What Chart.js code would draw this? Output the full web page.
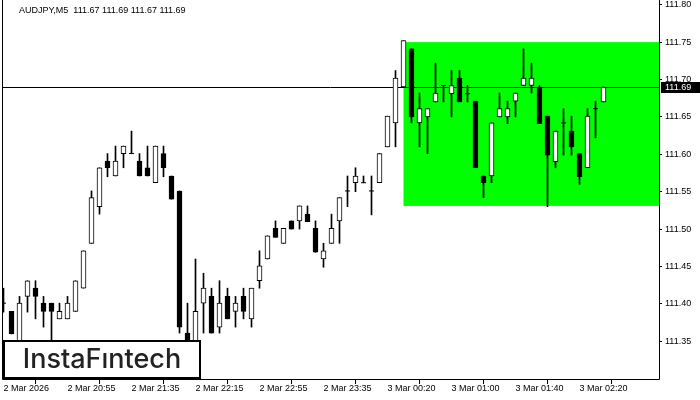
<!DOCTYPE html>
<html>
<head>
<meta charset="utf-8">
<script src="https://cdn.jsdelivr.net/npm/chart.js@4.4.1/dist/chart.umd.min.js"></script>
<style>
  html, body { margin: 0; padding: 0; background: #ffffff; }
</style>
</head>
<body>
<canvas id="maingraph" width="700" height="400"></canvas>
<script>
const symbol = "AUDJPY,M5";

// M5 candles, oldest first
const opens = [111.401, 111.390, 111.345, 111.410, 111.421, 111.401, 111.401, 111.380, 111.380, 111.390,
  111.421, 111.481, 111.530, 111.591, 111.571, 111.601, 111.601, 111.591, 111.582, 111.562,
  111.601, 111.571, 111.551, 111.361, 111.345, 111.401, 111.410, 111.369, 111.410, 111.390,
  111.410, 111.380, 111.431, 111.460, 111.501, 111.481, 111.511, 111.511, 111.520, 111.501,
  111.460, 111.481, 111.511, 111.551, 111.562, 111.562, 111.551, 111.562, 111.610, 111.642,
  111.690, 111.741, 111.642, 111.650, 111.670, 111.692, 111.681, 111.702, 111.681, 111.671,
  111.571, 111.571, 111.650, 111.650, 111.671, 111.692, 111.692, 111.690, 111.651, 111.590,
  111.642, 111.631, 111.601, 111.582, 111.661, 111.670];
const highs = [111.421, 111.390, 111.410, 111.431, 111.431, 111.410, 111.401, 111.401, 111.410, 111.431,
  111.471, 111.551, 111.582, 111.601, 111.611, 111.611, 111.631, 111.601, 111.611, 111.611,
  111.611, 111.571, 111.551, 111.401, 111.460, 111.441, 111.421, 111.431, 111.421, 111.410,
  111.421, 111.421, 111.471, 111.491, 111.511, 111.501, 111.511, 111.531, 111.531, 111.511,
  111.481, 111.520, 111.542, 111.571, 111.582, 111.571, 111.571, 111.601, 111.651, 111.712,
  111.752, 111.741, 111.682, 111.661, 111.722, 111.692, 111.712, 111.712, 111.692, 111.671,
  111.571, 111.642, 111.682, 111.671, 111.682, 111.741, 111.722, 111.692, 111.651, 111.631,
  111.661, 111.651, 111.601, 111.661, 111.671, 111.690];
const lows = [111.389, 111.360, 111.338, 111.389, 111.380, 111.369, 111.338, 111.380, 111.380, 111.390,
  111.421, 111.481, 111.520, 111.570, 111.571, 111.582, 111.601, 111.571, 111.571, 111.562,
  111.570, 111.540, 111.361, 111.344, 111.341, 111.361, 111.361, 111.361, 111.380, 111.369,
  111.380, 111.369, 111.421, 111.460, 111.489, 111.481, 111.500, 111.500, 111.510, 111.469,
  111.449, 111.481, 111.481, 111.530, 111.550, 111.562, 111.519, 111.562, 111.610, 111.610,
  111.690, 111.642, 111.610, 111.601, 111.670, 111.670, 111.650, 111.670, 111.670, 111.582,
  111.542, 111.562, 111.650, 111.641, 111.650, 111.692, 111.682, 111.641, 111.530, 111.582,
  111.599, 111.599, 111.560, 111.582, 111.622, 111.670];
const closes = [111.401, 111.360, 111.401, 111.431, 111.410, 111.390, 111.390, 111.390, 111.401, 111.431,
  111.471, 111.542, 111.582, 111.582, 111.591, 111.611, 111.601, 111.571, 111.571, 111.611,
  111.582, 111.540, 111.369, 111.349, 111.390, 111.421, 111.361, 111.401, 111.380, 111.401,
  111.390, 111.421, 111.451, 111.491, 111.489, 111.501, 111.500, 111.531, 111.510, 111.469,
  111.471, 111.501, 111.542, 111.551, 111.571, 111.562, 111.551, 111.601, 111.651, 111.702,
  111.752, 111.650, 111.661, 111.661, 111.682, 111.692, 111.692, 111.670, 111.681, 111.582,
  111.562, 111.642, 111.661, 111.661, 111.682, 111.702, 111.702, 111.641, 111.599, 111.631,
  111.642, 111.610, 111.570, 111.651, 111.661, 111.690];

// time axis labels, one every 8 bars
const xTickLabels = ["2 Mar 2026", "2 Mar 20:55", "2 Mar 21:35", "2 Mar 22:15", "2 Mar 22:55",
  "2 Mar 23:35", "3 Mar 00:20", "3 Mar 01:00", "3 Mar 01:40", "3 Mar 02:20"];
const yTickValues = [111.35, 111.40, 111.45, 111.50, 111.55, 111.60, 111.65, 111.70, 111.75, 111.80];

// green rectangle pattern
const boxStart = 50;
const boxTop = 111.75;
const boxBottom = 111.531;

const idx = opens.map((v, i) => i);
const last = idx.length - 1;

const wickData = idx.map(i => ({ x: i, y: [lows[i], highs[i]] }));
const bodyIdx = idx.filter(i => opens[i] !== closes[i]);
const bodyData = bodyIdx.map(i => ({ x: i, y: [Math.min(opens[i], closes[i]), Math.max(opens[i], closes[i])] }));
const bodyColors = bodyIdx.map(i => (closes[i] > opens[i] ? "#ffffff" : "#000000"));
const dojiData = idx.filter(i => opens[i] === closes[i]).map(i => ({ x: i, y: opens[i] }));

const FONT = "Liberation Sans, Arial, sans-serif";
Chart.defaults.font.family = FONT;

const chartDeco = {
  id: "chartDeco",
  beforeDatasetsDraw(chart) {
    const { ctx, chartArea: a, scales: { x, y } } = chart;
    ctx.save();
    // pattern rectangle
    const bx = x.getPixelForValue(boxStart);
    const by1 = y.getPixelForValue(boxTop);
    const by2 = y.getPixelForValue(boxBottom);
    ctx.fillStyle = "#00ff00";
    ctx.fillRect(bx, by1, a.right - bx, by2 - by1);
    // bid line
    const py = Math.round(y.getPixelForValue(closes[last])) + 0.5;
    ctx.strokeStyle = "#000";
    ctx.lineWidth = 1;
    ctx.beginPath();
    ctx.moveTo(a.left, py);
    ctx.lineTo(a.right, py);
    ctx.stroke();
    ctx.restore();
  },
  afterDraw(chart) {
    const { ctx, chartArea: a, scales: { y } } = chart;
    ctx.save();
    // frame
    ctx.strokeStyle = "#000";
    ctx.lineWidth = 1;
    ctx.beginPath();
    ctx.moveTo(a.left + 0.5, 0);
    ctx.lineTo(a.left + 0.5, a.bottom + 0.5);
    ctx.lineTo(a.right + 0.5, a.bottom + 0.5);
    ctx.lineTo(a.right + 0.5, 0);
    ctx.stroke();

    // price label on the axis
    const py = Math.round(y.getPixelForValue(closes[last]));
    ctx.fillStyle = "#000";
    ctx.fillRect(a.right + 2, py - 5, 700 - a.right - 2, 11);
    ctx.fillStyle = "#fff";
    ctx.font = "9px " + FONT;
    ctx.textBaseline = "middle";
    ctx.fillText(closes[last].toFixed(2), a.right + 6, py + 0.5);

    // title
    ctx.fillStyle = "#000";
    const ohlc = [opens[last], highs[last], lows[last], closes[last]].map(v => v.toFixed(2)).join(" ");
    ctx.fillText(symbol + "  " + ohlc, 19, 11);

    // logo
    ctx.fillStyle = "#fff";
    ctx.fillRect(3, 340, 198, 39);
    ctx.lineWidth = 2;
    ctx.strokeRect(4, 341, 196, 37);
    ctx.fillStyle = "#222";
    ctx.font = "500 27px Inter";
    ctx.textAlign = "center";
    ctx.fillText("InstaF\u0131ntech", 102, 360);
    ctx.restore();
  }
};

const ctx = document.getElementById("maingraph");

new Chart(ctx, {
  type: "bar",
  data: {
    datasets: [
      {
        type: "scatter",
        data: dojiData,
        pointStyle: "line",
        radius: 2.5,
        hoverRadius: 2.5,
        borderColor: "#000",
        borderWidth: 1,
        order: 0,
      },
      {
        data: bodyData,
        backgroundColor: bodyColors,
        borderColor: "#000",
        borderWidth: 1,
        borderSkipped: false,
        barThickness: 5,
        grouped: false,
        order: 1,
      },
      {
        data: wickData,
        backgroundColor: "#000",
        barThickness: 1,
        grouped: false,
        order: 2,
      },
    ],
  },
  options: {
    responsive: false,
    animation: false,
    layout: { autoPadding: false, padding: { left: 2, top: 0, right: 0, bottom: 0 } },
    plugins: {
      legend: { display: false },
      tooltip: { enabled: false },
    },
    scales: {
      x: {
        type: "linear",
        min: -0.1875,
        max: 81.9375,
        offset: false,
        border: { display: false },
        grid: { drawOnChartArea: false, tickLength: 5, color: "#000" },
        ticks: {
          autoSkip: false,
          maxRotation: 0,
          align: "start",
          padding: -1,
          color: "#000",
          font: { size: 9 },
          callback: (v) => xTickLabels[Math.round(v / 8)],
        },
        afterBuildTicks: (s) => { s.ticks = xTickLabels.map((t, i) => ({ value: i * 8 })); },
        afterFit: (s) => { s.height = 21; s.paddingLeft = 0; s.paddingRight = 0; },
      },
      y: {
        position: "right",
        min: 111.2996,
        max: 111.8063,
        border: { display: false },
        grid: { drawOnChartArea: false, tickLength: 3, color: "#000" },
        ticks: {
          padding: 3,
          color: "#000",
          font: { size: 9 },
          callback: (v) => v.toFixed(2),
        },
        afterBuildTicks: (s) => { s.ticks = yTickValues.map(v => ({ value: v })); },
        afterFit: (s) => { s.width = 41; s.paddingTop = 0; s.paddingBottom = 0; },
      },
    },
  },
  plugins: [chartDeco],
});
</script>
</body>
</html>
